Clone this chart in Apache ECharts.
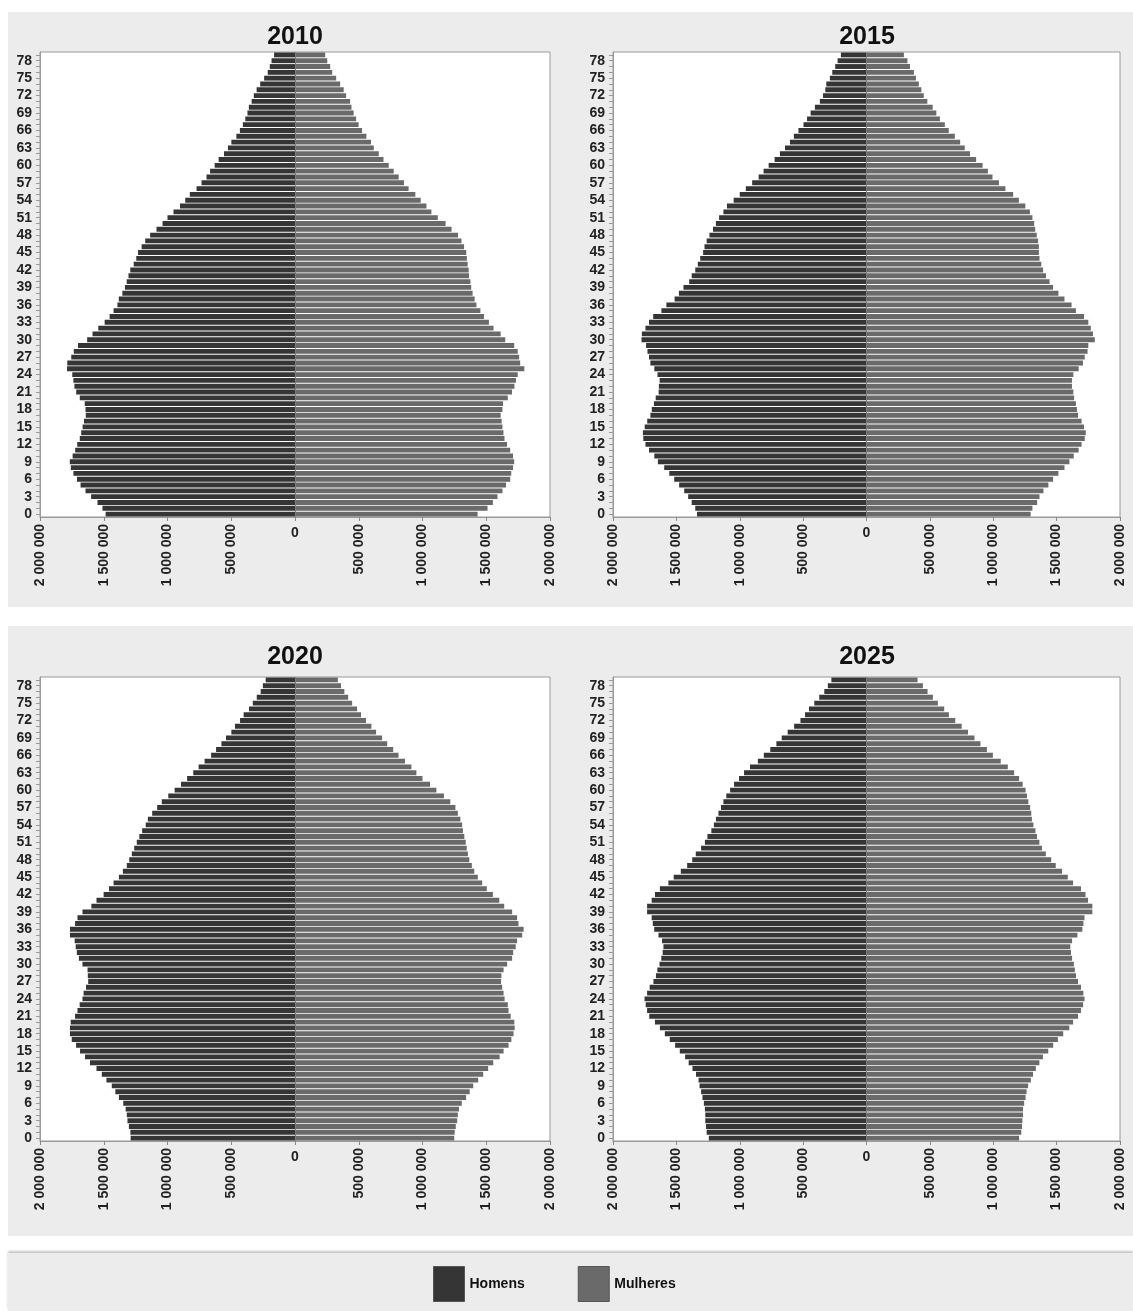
<!DOCTYPE html>
<html>
<head>
<meta charset="utf-8">
<title>Pirâmides etárias 2010-2025</title>
<script src="https://cdn.jsdelivr.net/npm/echarts@6/dist/echarts.min.js"></script>
<style>
  html, body { margin: 0; padding: 0; background: #fff; }
  #wrap { position: relative; width: 1133px; height: 1311px; overflow: hidden; }
  .panel { position: absolute; background: #ececec; }
  #chart { position: absolute; left: 0; top: 0; width: 1133px; height: 1311px; }
</style>
</head>
<body>
<div id="wrap">
  <div class="panel" style="left:8px;top:12px;width:1125px;height:595px"></div>
  <div class="panel" style="left:8px;top:626px;width:1125px;height:610px"></div>
  <div class="panel" style="left:8px;top:1253px;width:1125px;height:58px;box-shadow:0 -2px 2px #c8c8c8"></div>
  <div id="chart"></div>
</div>
<script>
// idades 0..79 (uma barra por ano)
const ages = Array.from({ length: 80 }, (_, i) => String(i));
const years = ['2010', '2015', '2020', '2025'];

// população em milhões, idade 0 -> 79
const men2010 = [1.485, 1.510, 1.549, 1.599, 1.643, 1.682, 1.710, 1.738, 1.758, 1.766,
  1.744, 1.724, 1.708, 1.688, 1.677, 1.666, 1.655, 1.641, 1.643, 1.649,
  1.688, 1.716, 1.730, 1.738, 1.747, 1.788, 1.786, 1.755, 1.735, 1.702,
  1.630, 1.588, 1.543, 1.493, 1.454, 1.423, 1.393, 1.382, 1.354, 1.334,
  1.320, 1.306, 1.292, 1.265, 1.245, 1.231, 1.203, 1.175, 1.136, 1.086,
  1.039, 1.000, 0.953, 0.902, 0.861, 0.825, 0.772, 0.733, 0.694, 0.666,
  0.630, 0.599, 0.557, 0.526, 0.499, 0.460, 0.432, 0.409, 0.390, 0.373,
  0.362, 0.340, 0.323, 0.301, 0.273, 0.242, 0.214, 0.198, 0.184, 0.164];
const women2010 = [1.432, 1.510, 1.552, 1.588, 1.627, 1.655, 1.688, 1.696, 1.710, 1.719,
  1.710, 1.688, 1.663, 1.643, 1.635, 1.627, 1.621, 1.613, 1.627, 1.632,
  1.669, 1.702, 1.721, 1.733, 1.747, 1.799, 1.766, 1.758, 1.747, 1.719,
  1.649, 1.613, 1.557, 1.521, 1.482, 1.454, 1.423, 1.409, 1.393, 1.382,
  1.376, 1.365, 1.362, 1.354, 1.348, 1.343, 1.326, 1.306, 1.279, 1.228,
  1.181, 1.120, 1.070, 1.031, 0.986, 0.944, 0.891, 0.855, 0.813, 0.774,
  0.735, 0.694, 0.657, 0.618, 0.596, 0.560, 0.526, 0.499, 0.479, 0.460,
  0.443, 0.432, 0.401, 0.382, 0.354, 0.323, 0.292, 0.276, 0.253, 0.237];

const men2015 = [1.337, 1.351, 1.379, 1.407, 1.438, 1.478, 1.517, 1.556, 1.596, 1.646,
  1.674, 1.716, 1.744, 1.761, 1.764, 1.750, 1.730, 1.705, 1.694, 1.677,
  1.663, 1.640, 1.638, 1.632, 1.649, 1.674, 1.705, 1.716, 1.728, 1.739,
  1.775, 1.772, 1.744, 1.716, 1.683, 1.618, 1.579, 1.514, 1.480, 1.444,
  1.399, 1.379, 1.351, 1.331, 1.312, 1.289, 1.278, 1.261, 1.239, 1.211,
  1.188, 1.163, 1.129, 1.101, 1.048, 1.000, 0.952, 0.902, 0.851, 0.812,
  0.772, 0.725, 0.683, 0.643, 0.604, 0.573, 0.537, 0.497, 0.469, 0.441,
  0.407, 0.368, 0.343, 0.325, 0.317, 0.289, 0.270, 0.247, 0.228, 0.202];
const women2015 = [1.295, 1.309, 1.346, 1.365, 1.396, 1.435, 1.472, 1.514, 1.562, 1.601,
  1.635, 1.674, 1.697, 1.722, 1.730, 1.716, 1.697, 1.669, 1.660, 1.652,
  1.638, 1.632, 1.621, 1.621, 1.632, 1.674, 1.708, 1.722, 1.744, 1.750,
  1.801, 1.787, 1.770, 1.750, 1.716, 1.652, 1.618, 1.562, 1.514, 1.472,
  1.444, 1.416, 1.393, 1.379, 1.365, 1.360, 1.360, 1.354, 1.343, 1.331,
  1.323, 1.309, 1.289, 1.253, 1.202, 1.157, 1.096, 1.045, 0.994, 0.958,
  0.916, 0.865, 0.817, 0.775, 0.739, 0.697, 0.649, 0.618, 0.579, 0.551,
  0.522, 0.480, 0.452, 0.433, 0.413, 0.390, 0.374, 0.343, 0.323, 0.295];

const men2020 = [1.289, 1.291, 1.303, 1.314, 1.319, 1.328, 1.347, 1.381, 1.409, 1.437,
  1.479, 1.515, 1.557, 1.608, 1.647, 1.686, 1.717, 1.751, 1.765, 1.765,
  1.759, 1.725, 1.706, 1.689, 1.667, 1.658, 1.639, 1.622, 1.625, 1.627,
  1.667, 1.695, 1.711, 1.720, 1.728, 1.765, 1.765, 1.725, 1.706, 1.667,
  1.597, 1.557, 1.501, 1.459, 1.423, 1.381, 1.350, 1.319, 1.300, 1.280,
  1.261, 1.241, 1.221, 1.199, 1.171, 1.154, 1.120, 1.081, 1.045, 0.994,
  0.944, 0.894, 0.846, 0.798, 0.756, 0.709, 0.658, 0.619, 0.577, 0.541,
  0.499, 0.471, 0.431, 0.403, 0.361, 0.331, 0.300, 0.269, 0.252, 0.230];
const women2020 = [1.249, 1.252, 1.261, 1.272, 1.277, 1.286, 1.308, 1.342, 1.370, 1.398,
  1.437, 1.476, 1.515, 1.555, 1.605, 1.636, 1.675, 1.697, 1.714, 1.723,
  1.720, 1.692, 1.675, 1.669, 1.644, 1.636, 1.625, 1.616, 1.619, 1.636,
  1.664, 1.703, 1.711, 1.731, 1.742, 1.782, 1.793, 1.753, 1.742, 1.703,
  1.641, 1.602, 1.552, 1.504, 1.468, 1.434, 1.406, 1.387, 1.367, 1.356,
  1.347, 1.339, 1.328, 1.317, 1.311, 1.297, 1.277, 1.258, 1.218, 1.168,
  1.109, 1.059, 1.000, 0.952, 0.913, 0.863, 0.812, 0.770, 0.723, 0.683,
  0.636, 0.599, 0.557, 0.518, 0.487, 0.448, 0.417, 0.387, 0.361, 0.336];

const men2025 = [1.244, 1.261, 1.266, 1.272, 1.272, 1.275, 1.283, 1.294, 1.305, 1.317,
  1.325, 1.345, 1.373, 1.403, 1.431, 1.473, 1.510, 1.552, 1.591, 1.630,
  1.669, 1.714, 1.731, 1.742, 1.751, 1.731, 1.711, 1.681, 1.661, 1.650,
  1.633, 1.619, 1.608, 1.602, 1.613, 1.641, 1.675, 1.686, 1.695, 1.731,
  1.731, 1.695, 1.669, 1.630, 1.563, 1.521, 1.465, 1.415, 1.375, 1.347,
  1.305, 1.275, 1.255, 1.224, 1.204, 1.188, 1.168, 1.148, 1.129, 1.106,
  1.076, 1.045, 1.006, 0.966, 0.919, 0.857, 0.810, 0.759, 0.711, 0.669,
  0.622, 0.571, 0.521, 0.485, 0.454, 0.412, 0.373, 0.333, 0.305, 0.277];
const women2025 = [1.204, 1.221, 1.227, 1.230, 1.235, 1.235, 1.244, 1.255, 1.263, 1.275,
  1.297, 1.314, 1.336, 1.364, 1.392, 1.434, 1.473, 1.510, 1.552, 1.600,
  1.630, 1.669, 1.692, 1.709, 1.720, 1.711, 1.692, 1.669, 1.653, 1.644,
  1.636, 1.622, 1.613, 1.608, 1.622, 1.664, 1.703, 1.711, 1.720, 1.782,
  1.782, 1.748, 1.728, 1.692, 1.630, 1.588, 1.543, 1.493, 1.457, 1.415,
  1.384, 1.364, 1.345, 1.333, 1.317, 1.305, 1.300, 1.291, 1.277, 1.266,
  1.255, 1.232, 1.204, 1.165, 1.115, 1.059, 0.997, 0.950, 0.899, 0.852,
  0.801, 0.751, 0.700, 0.650, 0.613, 0.563, 0.524, 0.482, 0.445, 0.403];

const menByYear = [men2010, men2015, men2020, men2025];
const womenByYear = [women2010, women2015, women2020, women2025];

const MEN_COLOR = '#353535';
const WOMEN_COLOR = '#6a6a6a';
const FONT = '"Liberation Sans", Arial, sans-serif';

// posição de cada painel
const panels = [
  { left: 40, top: 52, width: 510, height: 465, cx: 295, ty: 25 },
  { left: 613, top: 52, width: 507, height: 465, cx: 867, ty: 25 },
  { left: 40, top: 677, width: 510, height: 464, cx: 295, ty: 645 },
  { left: 613, top: 677, width: 507, height: 464, cx: 867, ty: 645 }
];

// "2 000 000"
function fmt(v) {
  return String(Math.abs(v)).replace(/\B(?=(\d{3})+(?!\d))/g, ' ');
}

const option = {
  animation: false,
  textStyle: { fontFamily: FONT },
  title: years.map((y, i) => ({
    text: y,
    left: panels[i].cx,
    top: panels[i].ty,
    textAlign: 'center',
    padding: 0,
    textStyle: { fontFamily: FONT, fontSize: 25, fontWeight: 'bold', color: '#111' }
  })),
  legend: {
    data: ['Homens', 'Mulheres'],
    icon: 'rect',
    left: 433,
    top: 1266,
    padding: 0,
    itemWidth: 31,
    itemHeight: 35,
    itemGap: 53,
    itemStyle: { borderColor: '#555', borderWidth: 1 },
    textStyle: { fontFamily: FONT, fontSize: 14, fontWeight: 'bold', color: '#111' }
  },
  grid: panels.map(p => ({
    left: p.left, top: p.top, width: p.width, height: p.height,
    show: true, backgroundColor: '#fff', borderColor: '#9a9a9a', borderWidth: 1,
    containLabel: false
  })),
  xAxis: [],
  yAxis: [],
  series: []
};

years.forEach((y, i) => {
  // eixo principal: rótulos rodados
  option.xAxis.push({
    type: 'value', gridIndex: i, min: -2000000, max: 2000000, interval: 500000,
    axisLine: { show: true, onZero: false, lineStyle: { color: '#9a9a9a' } },
    axisTick: { show: true, length: 4, lineStyle: { color: '#888' } },
    splitLine: { show: false },
    axisLabel: {
      rotate: 90, margin: 7, showMinLabel: true, showMaxLabel: true,
      fontSize: 14, fontWeight: 'bold', color: '#222', fontFamily: FONT,
      formatter: v => (v === 0 ? '' : fmt(v))
    }
  });
  // só o "0", na vertical
  option.xAxis.push({
    type: 'value', gridIndex: i, min: -2000000, max: 2000000, interval: 500000,
    position: 'bottom',
    axisLine: { show: false }, axisTick: { show: false }, splitLine: { show: false },
    axisLabel: {
      margin: 9, fontSize: 14, fontWeight: 'bold', color: '#222', fontFamily: FONT,
      formatter: v => (v === 0 ? '0' : '')
    }
  });
  option.yAxis.push({
    type: 'category', gridIndex: i, data: ages,
    axisLine: { show: true, onZero: false, lineStyle: { color: '#9a9a9a' } },
    axisTick: { show: true, interval: 0, alignWithLabel: true, length: 4, lineStyle: { color: '#999' } },
    axisLabel: {
      interval: (idx) => idx % 3 === 0,
      margin: 8, fontSize: 14, fontWeight: 'bold', color: '#222', fontFamily: FONT
    },
    splitLine: { show: false }
  });
  option.series.push({
    name: 'Homens', type: 'bar', xAxisIndex: i * 2, yAxisIndex: i,
    data: menByYear[i].map(v => -Math.round(v * 1e6)),
    itemStyle: { color: MEN_COLOR },
    barCategoryGap: '16%', barGap: '-100%',
    markLine: {
      silent: true, symbol: ['none', 'none'], label: { show: false },
      lineStyle: { color: '#7c7c7c', type: 'solid', width: 1 },
      data: [{ xAxis: 0 }]
    }
  });
  option.series.push({
    name: 'Mulheres', type: 'bar', xAxisIndex: i * 2, yAxisIndex: i,
    data: womenByYear[i].map(v => Math.round(v * 1e6)),
    itemStyle: { color: WOMEN_COLOR },
    barCategoryGap: '16%', barGap: '-100%'
  });
});

const chart = echarts.init(document.getElementById('chart'), null, { renderer: 'canvas' });
chart.setOption(option);
</script>
</body>
</html>
